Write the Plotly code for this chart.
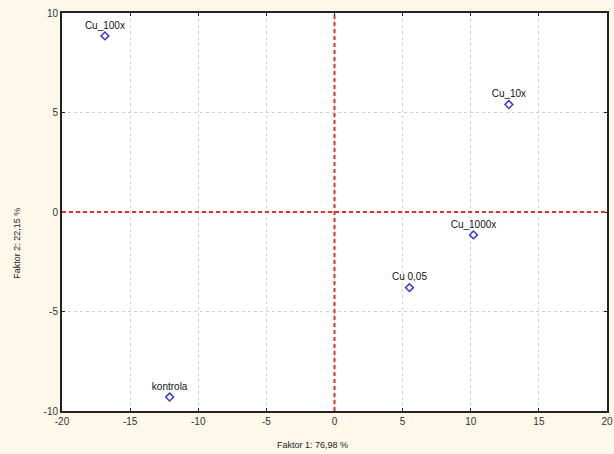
import plotly.graph_objects as go

labels = ["Cu_100x", "Cu_10x", "Cu_1000x", "Cu 0,05", "kontrola"]
factor1 = [-16.85, 12.8, 10.2, 5.5, -12.1]
factor2 = [8.85, 5.4, -1.15, -3.8, -9.3]
x_ticks = [-20, -15, -10, -5, 0, 5, 10, 15, 20]
y_ticks = [-10, -5, 0, 5, 10]

fig = go.Figure()
fig.add_trace(go.Scatter(
    x=factor1, y=factor2, mode="markers+text", text=labels,
    textposition="top center",
    textfont=dict(family="Liberation Sans, Arial", size=10, color="#111111"),
    marker=dict(symbol="diamond-open", size=6, color="#3a3ad0", line=dict(width=1.5, color="#3a3ad0")),
    showlegend=False, cliponaxis=False,
))

# red dashed reference lines at zero
fig.add_shape(type="line", xref="x", yref="paper", x0=0, x1=0, y0=0, y1=1,
              line=dict(color="#e03030", width=2, dash="4px,3px"))
fig.add_shape(type="line", xref="paper", yref="y", x0=0, x1=1, y0=0, y1=0,
              line=dict(color="#e03030", width=2, dash="4px,3px"))

axis_common = dict(
    showgrid=True, gridcolor="#d0d0d0", griddash="dot", gridwidth=1,
    zeroline=False, showline=True, linecolor="#222222", linewidth=2, mirror="ticks",
    ticks="inside", ticklen=3, tickcolor="#222222", automargin=False,
    ticklabeloverflow="allow",
    tickfont=dict(family="Liberation Sans, Arial", size=10, color="#333333"),
)
fig.update_xaxes(range=[-20, 20], tickvals=x_ticks, ticktext=[str(v) for v in x_ticks], **axis_common)
fig.update_yaxes(range=[-10, 10], tickvals=y_ticks, ticktext=[str(v) for v in y_ticks], **axis_common)

fig.add_annotation(text="Faktor 1: 76,98 %", xref="paper", yref="paper", x=0.46, y=0,
                   yshift=-34, showarrow=False, xanchor="center", yanchor="middle",
                   font=dict(family="Liberation Sans, Arial", size=9, color="#222222"))
fig.add_annotation(text="Faktor 2: 22,15 %", xref="paper", yref="paper", x=0, y=0.42,
                   xshift=-45, showarrow=False, textangle=-90, xanchor="center", yanchor="middle",
                   font=dict(family="Liberation Sans, Arial", size=9, color="#222222"))

fig.update_layout(
    width=614, height=454,
    margin=dict(l=62, r=7, t=13, b=43),
    paper_bgcolor="#fdf8ea", plot_bgcolor="#ffffff",
)
fig.write_html("out.html", config={"displayModeBar": False})

# remove default page margin so the figure fills the window
with open("out.html", "r", encoding="utf-8") as f:
    html = f.read()
html = html.replace("<head>", "<head><style>html,body{margin:0;padding:0;background:#fdf8ea;overflow:hidden}</style>", 1)
with open("out.html", "w", encoding="utf-8") as f:
    f.write(html)
